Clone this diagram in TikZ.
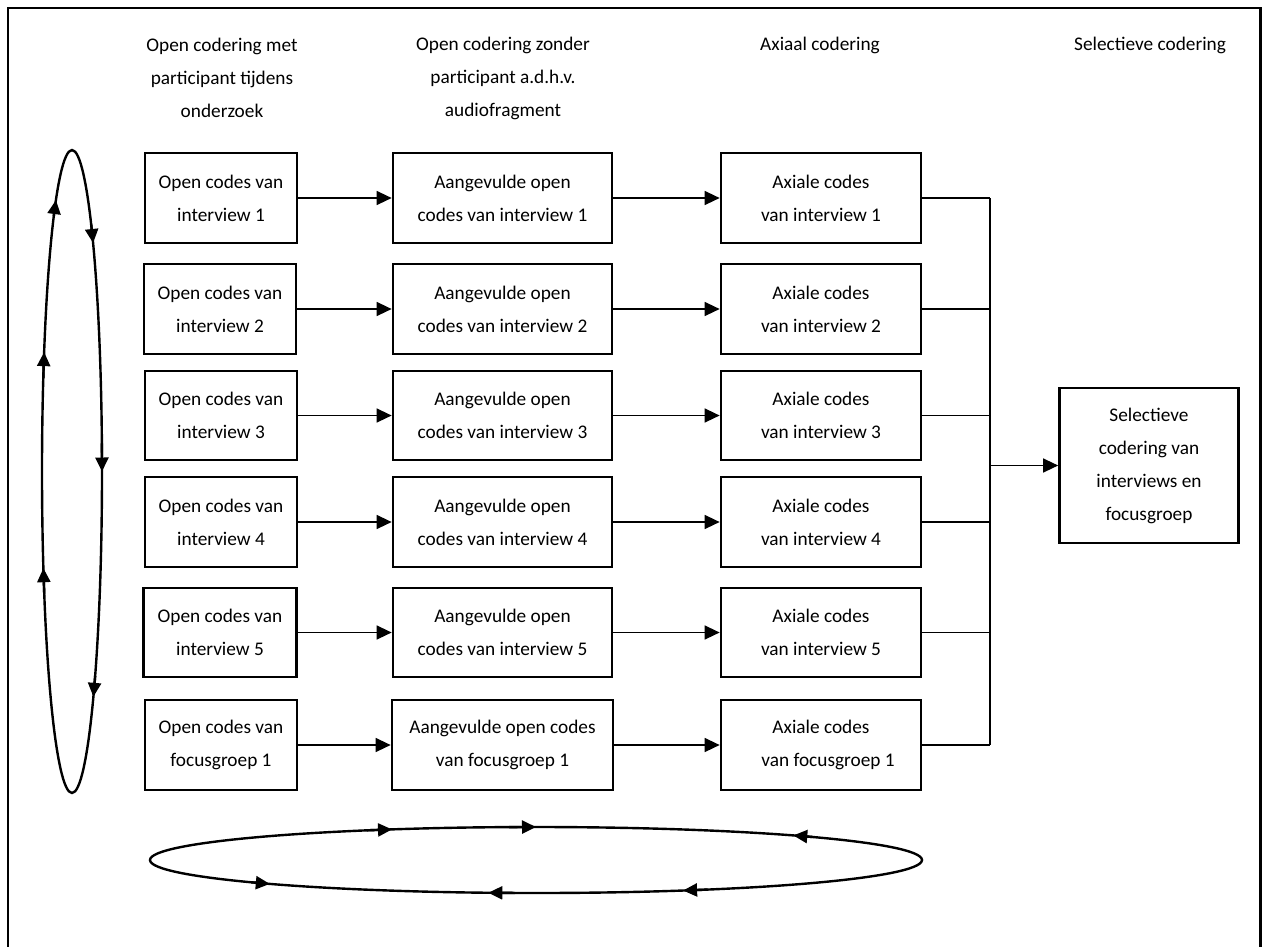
\documentclass[tikz,border=0pt]{standalone}
\usepackage{fontspec}
\setmainfont{Carlito}
\usetikzlibrary{arrows.meta,calc}
\tikzset{
  box/.style={draw, line width=2.7pt, align=center, inner sep=0pt, font=\fontsize{19.3}{33}\selectfont},
  hdr/.style={align=center, inner sep=0pt, font=\fontsize{19.3}{33}\selectfont},
  conn/.style={line width=1.4pt, -{Triangle[length=15pt,width=14pt]}},
  link/.style={line width=1.4pt},
  loopline/.style={line width=2.4pt},
  looptip/.style={line width=2.4pt, -{Triangle[length=14pt,width=13pt]}},
}
\begin{document}
\begin{tikzpicture}[x=1pt,y=-1pt]
\useasboundingbox (0,0) rectangle (1262,946);
% frame
\draw[line width=2.2pt] (8,960) -- (8,8) -- (1260.5,8) -- (1260.5,960);

% headers
\node[hdr] (h1) at (222,78) {Open codering met\\participant tijdens\\onderzoek};
\node[hdr] (h2) at (503,78) {Open codering zonder\\participant a.d.h.v.\\audiofragment};
\node[hdr] (h3) at (820,45) {Axiaal codering};
\node[hdr] (h4) at (1150,45) {Selectieve codering};

% column 1
\node[box, minimum width=152, minimum height=90] (a1) at (221,198) {Open codes van\\interview 1};
\node[box, minimum width=152, minimum height=90] (a2) at (220,309) {Open codes van\\interview 2};
\node[box, minimum width=152, minimum height=89] (a3) at (221,415.5) {Open codes van\\interview 3};
\node[box, minimum width=152, minimum height=90] (a4) at (221,522) {Open codes van\\interview 4};
\node[box, minimum width=153, minimum height=89] (a5) at (220,632.5) {Open codes van\\interview 5};
\node[box, minimum width=152, minimum height=90] (a6) at (221,745) {Open codes van\\focusgroep 1};

% column 2
\node[box, minimum width=219, minimum height=90] (b1) at (502.5,198) {Aangevulde open\\codes van interview 1};
\node[box, minimum width=219, minimum height=90] (b2) at (502.5,309) {Aangevulde open\\codes van interview 2};
\node[box, minimum width=219, minimum height=89] (b3) at (502.5,415.5) {Aangevulde open\\codes van interview 3};
\node[box, minimum width=219, minimum height=90] (b4) at (502.5,522) {Aangevulde open\\codes van interview 4};
\node[box, minimum width=219, minimum height=89] (b5) at (502.5,632.5) {Aangevulde open\\codes van interview 5};
\node[box, minimum width=221, minimum height=90] (b6) at (502.5,745) {Aangevulde open codes\\van focusgroep 1};

% column 3
\node[box, minimum width=200, minimum height=90] (c1) at (821,198) {Axiale codes\\van interview 1};
\node[box, minimum width=200, minimum height=90] (c2) at (821,309) {Axiale codes\\van interview 2};
\node[box, minimum width=200, minimum height=89] (c3) at (821,415.5) {Axiale codes\\van interview 3};
\node[box, minimum width=200, minimum height=90] (c4) at (821,522) {Axiale codes\\van interview 4};
\node[box, minimum width=200, minimum height=89] (c5) at (821,632.5) {Axiale codes\\van interview 5};
\node[box, minimum width=200, minimum height=90] (c6) at (821,745) {Axiale codes\\\hspace*{14pt}van focusgroep 1};

% column 4
\node[box, minimum width=179, minimum height=155] (d) at (1149,465.5) {Selectieve\\codering van\\interviews en\\focusgroep};

% arrows col1 -> col2 -> col3
\foreach \i in {1,...,6}{
  \draw[conn] (a\i) -- (b\i);
  \draw[conn] (b\i) -- (c\i);
}

% bracket
\coordinate (bx) at (990,0);
\foreach \i in {1,...,6}{
  \draw[link] (c\i.east) -- (c\i.east -| bx);
}
\draw[link] (c1.east -| bx) -- (c6.east -| bx);
\coordinate (bm) at (990,465.5);
\draw[conn] (bm) -- (d);

% left loop
\coordinate (lc) at (72,471.5);
\draw[loopline] (lc) ellipse [x radius=30, y radius=321.5];
\foreach \t in {237.6, 201.8, 162.5, -45.3, 0, 44.5}{
  \draw[looptip] ($(lc)+(\t-5:30 and 321.5)$) -- ($(lc)+(\t:30 and 321.5)$);
}

% bottom loop
\coordinate (bc) at (536,860);
\draw[loopline] (bc) ellipse [x radius=386, y radius=33];
% arrows pointing right on top
\foreach \t in {-111.9, -90}{
  \draw[looptip] ($(bc)+(\t-4:386 and 33)$) -- ($(bc)+(\t:386 and 33)$);
}
% arrow pointing left on top
\draw[looptip] ($(bc)+(-44.2:386 and 33)$) -- ($(bc)+(-48.2:386 and 33)$);
% arrow pointing right on bottom
\draw[looptip] ($(bc)+(137.6:386 and 33)$) -- ($(bc)+(133.6:386 and 33)$);
% arrows pointing left on bottom
\foreach \t in {97.1, 67.6}{
  \draw[looptip] ($(bc)+(\t-4:386 and 33)$) -- ($(bc)+(\t:386 and 33)$);
}
\end{tikzpicture}
\end{document}
